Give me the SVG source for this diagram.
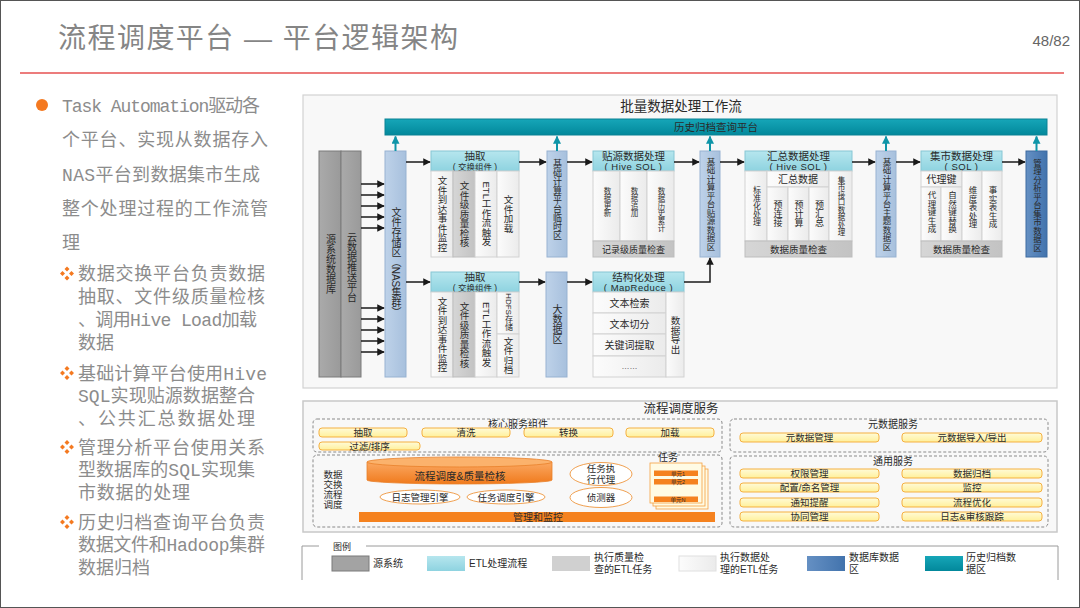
<svg xmlns="http://www.w3.org/2000/svg" width="1080" height="608" viewBox="0 0 1080 608">
<defs>
<linearGradient id="gBlue" x1="0" x2="1" y1="0" y2="0"><stop offset="0" stop-color="#bed2e9"/><stop offset="1" stop-color="#a7c0dd"/></linearGradient>
<linearGradient id="gCyan" x1="0" x2="0" y1="0" y2="1"><stop offset="0" stop-color="#b6e6ee"/><stop offset="1" stop-color="#8ed3e0"/></linearGradient>
<linearGradient id="gBody" x1="0" x2="1" y1="0" y2="0"><stop offset="0" stop-color="#fcfcfc"/><stop offset="1" stop-color="#ebebeb"/></linearGradient>
<linearGradient id="gQ" x1="0" x2="1" y1="0" y2="0"><stop offset="0" stop-color="#d6d6d6"/><stop offset="1" stop-color="#c3c3c3"/></linearGradient>
<linearGradient id="gSrc" x1="0" x2="1" y1="0" y2="0"><stop offset="0" stop-color="#aaaaaa"/><stop offset="1" stop-color="#9a9a9a"/></linearGradient>
<linearGradient id="gDark" x1="0" x2="1" y1="0" y2="0"><stop offset="0" stop-color="#6590c3"/><stop offset="1" stop-color="#4273ad"/></linearGradient>
<linearGradient id="gTeal" x1="0" x2="0" y1="0" y2="1"><stop offset="0" stop-color="#16a6b8"/><stop offset="1" stop-color="#02889b"/></linearGradient>
<linearGradient id="gOr" x1="0" x2="0" y1="0" y2="1"><stop offset="0" stop-color="#fba862"/><stop offset="1" stop-color="#f07a1c"/></linearGradient>
<linearGradient id="gYel" x1="0" x2="0" y1="0" y2="1"><stop offset="0" stop-color="#fffbd8"/><stop offset="1" stop-color="#fff09a"/></linearGradient>
<marker id="ab" viewBox="0 0 10 10" refX="9" refY="5" markerWidth="5" markerHeight="5" orient="auto"><path d="M0,0 L10,5 L0,10 z" fill="#1a1a1a"/></marker>
<marker id="at" viewBox="0 0 10 10" refX="9" refY="5" markerWidth="4" markerHeight="4" orient="auto"><path d="M0,0 L10,5 L0,10 z" fill="#0e95a8"/></marker>
<marker id="ao" viewBox="0 0 10 10" refX="9" refY="5" markerWidth="5" markerHeight="5" orient="auto"><path d="M0,0 L10,5 L0,10 z" fill="#f0a050"/></marker>
<style>
.t{font-family:'Liberation Sans','Noto Sans CJK SC',sans-serif;fill:#2a2a2a}
.c{text-anchor:middle}
.v{writing-mode:vertical-rl;text-anchor:middle;font-family:'Liberation Sans','Noto Sans CJK SC',sans-serif;fill:#2a2a2a}
.vs{writing-mode:vertical-rl;text-anchor:start;font-family:'Liberation Sans','Noto Sans CJK SC',sans-serif;fill:#333}
.lt{font-family:'Liberation Mono','Noto Sans CJK SC',sans-serif;font-size:18px;fill:#8c8c8c}
.bl{fill:url(#gBlue);stroke:#97b2d1;stroke-width:1}
.hd{fill:url(#gCyan);stroke:#86c6d4;stroke-width:1}
.bd{fill:url(#gBody);stroke:#d2d2d2;stroke-width:1}
.q{fill:url(#gQ);stroke:#bdbdbd;stroke-width:1}
.arr{stroke:#1a1a1a;stroke-width:1.5;fill:none;marker-end:url(#ab)}
.tar{stroke:#0e95a8;stroke-width:2;fill:none;marker-end:url(#at)}
.ol{stroke:#f0a050;stroke-width:1;fill:none}
.oa{stroke:#f0a050;stroke-width:1;fill:none;marker-end:url(#ao)}
.dash{fill:none;stroke:#8a8a8a;stroke-width:1;stroke-dasharray:3 2}
.yb{fill:url(#gYel);stroke:#f5b041;stroke-width:1}
.el{fill:#fff;stroke:#f0a050;stroke-width:1}
</style>
</defs>
<rect x="0" y="0" width="1080" height="608" fill="#fff"/>
<rect x="0.5" y="0.5" width="1079" height="607" fill="none" stroke="#555" stroke-width="1"/>

<!-- header -->
<g id="title">
<text x="58" y="48" font-family="'Liberation Sans','Noto Sans CJK SC',sans-serif" font-size="28" fill="#858585" textLength="400">流程调度平台  —  平台逻辑架构</text>
<text x="1070" y="46" font-family="'Liberation Sans','Noto Sans CJK SC',sans-serif" font-size="15" fill="#666" text-anchor="end">48/82</text>
<line x1="20" y1="73" x2="1064" y2="73" stroke="#ec7c7c" stroke-width="2"/>
</g>

<!-- left text -->
<g id="bullets">
<circle cx="42" cy="105" r="6" fill="#f47920"/>
<text class="lt" x="62" y="112" textLength="198">Task Automation驱动各</text>
<text class="lt" x="62" y="146" textLength="206">个平台、实现从数据存入</text>
<text class="lt" x="62" y="181" textLength="198">NAS平台到数据集市生成</text>
<text class="lt" x="62" y="215" textLength="206">整个处理过程的工作流管</text>
<text class="lt" x="62" y="249">理</text>
<g fill="#f47920">
<path d="M67,266.5 l2.5,2.5 l-2.5,2.5 l-2.5,-2.5z M67,275.5 l2.5,2.5 l-2.5,2.5 l-2.5,-2.5z M62.5,271 l2.5,2.5 l-2.5,2.5 l-2.5,-2.5z M71.5,271 l2.5,2.5 l-2.5,2.5 l-2.5,-2.5z"/>
<path d="M67,366 l2.5,2.5 l-2.5,2.5 l-2.5,-2.5z M67,375 l2.5,2.5 l-2.5,2.5 l-2.5,-2.5z M62.5,370.5 l2.5,2.5 l-2.5,2.5 l-2.5,-2.5z M71.5,370.5 l2.5,2.5 l-2.5,2.5 l-2.5,-2.5z"/>
<path d="M67,440 l2.5,2.5 l-2.5,2.5 l-2.5,-2.5z M67,449 l2.5,2.5 l-2.5,2.5 l-2.5,-2.5z M62.5,444.5 l2.5,2.5 l-2.5,2.5 l-2.5,-2.5z M71.5,444.5 l2.5,2.5 l-2.5,2.5 l-2.5,-2.5z"/>
<path d="M67,515 l2.5,2.5 l-2.5,2.5 l-2.5,-2.5z M67,524 l2.5,2.5 l-2.5,2.5 l-2.5,-2.5z M62.5,519.5 l2.5,2.5 l-2.5,2.5 l-2.5,-2.5z M71.5,519.5 l2.5,2.5 l-2.5,2.5 l-2.5,-2.5z"/>
</g>
<text class="lt" x="78" y="280" textLength="187">数据交换平台负责数据</text>
<text class="lt" x="78" y="303" textLength="187">抽取、文件级质量检核</text>
<text class="lt" x="78" y="326" textLength="179">、调用Hive Load加载</text>
<text class="lt" x="78" y="349">数据</text>
<text class="lt" x="78" y="380" textLength="189">基础计算平台使用Hive</text>
<text class="lt" x="78" y="402" textLength="177">SQL实现贴源数据整合</text>
<text class="lt" x="78" y="425" textLength="177">、公共汇总数据处理</text>
<text class="lt" x="78" y="454" textLength="187">管理分析平台使用关系</text>
<text class="lt" x="78" y="476" textLength="177">型数据库的SQL实现集</text>
<text class="lt" x="78" y="499" textLength="112">市数据的处理</text>
<text class="lt" x="78" y="529" textLength="187">历史归档查询平台负责</text>
<text class="lt" x="78" y="551" textLength="187">数据文件和Hadoop集群</text>
<text class="lt" x="78" y="574" textLength="72">数据归档</text>
</g>

<!-- upper panel -->
<g id="batch-panel">
<rect x="303" y="95" width="754" height="293" fill="#f8f8f8" stroke="#d2d2d2" stroke-width="1.2"/>
<text class="t c" x="681" y="111" font-size="13.5" fill="#333">批量数据处理工作流</text>
</g>

<g id="hist">
<rect x="385" y="119" width="662" height="16" fill="url(#gTeal)" stroke="#0a8194"/>
<text class="t c" x="716" y="131" font-size="10.5" fill="#111">历史归档查询平台</text>
</g>

<g id="src">
<rect x="319" y="151" width="22" height="226" fill="url(#gSrc)" stroke="#7a7a7a"/>
<text class="v" x="330" y="264" font-size="10">源系统数据库</text>
</g>
<g id="cloud">
<rect x="341" y="151" width="20" height="226" fill="url(#gSrc)" stroke="#7a7a7a"/>
<text class="v" x="351" y="267" font-size="10">云数据推送平台</text>
</g>
<g id="nas">
<rect class="bl" x="385" y="151" width="21" height="226"/>
<text class="v" x="395.5" y="262" font-size="10">文件存储区（NAS集群）</text>
</g>

<g id="etl1">
<rect class="hd" x="431" y="151" width="88" height="20"/>
<text class="t c" x="475" y="160" font-size="10.5">抽取</text>
<text class="t c" x="475" y="169.5" font-size="8.5">( 交换组件 )</text>
<rect class="bd" x="431" y="171" width="22" height="86"/>
<rect class="q" x="453" y="171" width="22" height="86"/>
<rect class="bd" x="475" y="171" width="22" height="86"/>
<rect class="bd" x="497" y="171" width="22" height="86"/>
<text class="v" x="442" y="214" font-size="9.5">文件到达事件监控</text>
<text class="v" x="464" y="214" font-size="9.5">文件级质量检核</text>
<text class="v" x="486" y="214" font-size="9.5">ETL工作流触发</text>
<text class="v" x="508" y="214" font-size="9.5">文件加载</text>
</g>

<g id="tmp">
<rect class="bl" x="547" y="151" width="20" height="106"/>
<text class="v" x="557" y="200" font-size="9">基础计算平台临时区</text>
</g>

<g id="tieyuan">
<rect class="hd" x="593" y="151" width="81" height="20"/>
<text class="t c" x="633.5" y="160" font-size="10.5">贴源数据处理</text>
<text class="t c" x="633.5" y="169.5" font-size="9.5" letter-spacing="0.5">( Hive SQL )</text>
<rect class="bd" x="593" y="171" width="27" height="70"/>
<rect class="bd" x="620" y="171" width="27" height="70"/>
<rect class="bd" x="647" y="171" width="27" height="70"/>
<rect class="q" x="593" y="241" width="81" height="16"/>
<text class="vs" x="606.5" y="187" font-size="7.5">数据更新</text>
<text class="vs" x="633.5" y="187" font-size="7.5">数据追加</text>
<text class="vs" x="660.5" y="187" font-size="7.5">数据历史累计</text>
<text class="t c" x="633.5" y="252.5" font-size="9" fill="#444">记录级质量检查</text>
</g>

<g id="tieyuan-zone">
<rect class="bl" x="700" y="151" width="20" height="106"/>
<text class="v" x="710" y="204" font-size="8.5">基础计算平台贴源数据区</text>
</g>

<g id="huizong">
<rect class="hd" x="745" y="151" width="107" height="20"/>
<text class="t c" x="798.5" y="160" font-size="10.5">汇总数据处理</text>
<text class="t c" x="798.5" y="169.5" font-size="9.5" letter-spacing="0.5">( Hive SQL )</text>
<rect class="bd" x="745" y="171" width="22" height="70"/>
<rect class="bd" x="767" y="171" width="62" height="16"/>
<rect class="bd" x="767" y="187" width="21" height="54"/>
<rect class="bd" x="788" y="187" width="21" height="54"/>
<rect class="bd" x="809" y="187" width="20" height="54"/>
<rect class="bd" x="829" y="171" width="23" height="70"/>
<rect class="q" x="745" y="241" width="107" height="16"/>
<text class="v" x="756" y="206" font-size="8">标准化处理</text>
<text class="t c" x="798" y="182.5" font-size="10">汇总数据</text>
<text class="v" x="777.5" y="214" font-size="9">预连接</text>
<text class="v" x="798.5" y="214" font-size="9">预计算</text>
<text class="v" x="819" y="214" font-size="9">预汇总</text>
<text class="v" x="840.5" y="206" font-size="7.5">集市接口数据处理</text>
<text class="t c" x="798.5" y="252.5" font-size="9.5" fill="#444">数据质量检查</text>
</g>

<g id="theme-zone">
<rect class="bl" x="876" y="151" width="20" height="106"/>
<text class="v" x="886" y="204" font-size="8.5">基础计算平台主题数据区</text>
</g>

<g id="jishi">
<rect class="hd" x="921" y="151" width="81" height="20"/>
<text class="t c" x="961.5" y="160" font-size="10.5">集市数据处理</text>
<text class="t c" x="961.5" y="169.5" font-size="9.5" letter-spacing="0.5">( SQL )</text>
<rect class="bd" x="921" y="171" width="41" height="16"/>
<rect class="bd" x="921" y="187" width="20" height="54"/>
<rect class="bd" x="941" y="187" width="21" height="54"/>
<rect class="bd" x="962" y="171" width="20" height="70"/>
<rect class="bd" x="982" y="171" width="20" height="70"/>
<rect class="q" x="921" y="241" width="81" height="16"/>
<text class="t c" x="941.5" y="182.5" font-size="10">代理键</text>
<text class="v" x="931" y="212" font-size="8.5">代理键生成</text>
<text class="v" x="951.5" y="212" font-size="8.5">自然键替换</text>
<text class="v" x="972" y="207" font-size="8.5">维度表处理</text>
<text class="v" x="992" y="207" font-size="8.5">事实表生成</text>
<text class="t c" x="961.5" y="252.5" font-size="9.5" fill="#444">数据质量检查</text>
</g>

<g id="mart-zone">
<rect x="1026" y="151" width="21" height="106" fill="url(#gDark)" stroke="#3d6aa0"/>
<text class="v" x="1036.5" y="205" font-size="8.5" fill="#111">管理分析平台集市数据区</text>
</g>

<g id="etl2">
<rect class="hd" x="431" y="272" width="88" height="20"/>
<text class="t c" x="475" y="281" font-size="10.5">抽取</text>
<text class="t c" x="475" y="290.5" font-size="8.5">( 交换组件 )</text>
<rect class="bd" x="431" y="292" width="22" height="85"/>
<rect class="q" x="453" y="292" width="22" height="85"/>
<rect class="bd" x="475" y="292" width="22" height="85"/>
<rect class="bd" x="497" y="292" width="22" height="42"/>
<rect class="bd" x="497" y="334" width="22" height="43"/>
<text class="v" x="442" y="334.5" font-size="9.5">文件到达事件监控</text>
<text class="v" x="464" y="334.5" font-size="9.5">文件级质量检核</text>
<text class="v" x="486" y="334.5" font-size="9.5">ETL工作流触发</text>
<text class="v" x="508" y="312" font-size="8">HDFS存储</text>
<text class="v" x="508" y="355.5" font-size="9.5">文件归档</text>
</g>

<g id="bigdata">
<rect class="bl" x="546" y="272" width="21" height="105"/>
<text class="v" x="556.5" y="324.5" font-size="10">大数据区</text>
</g>

<g id="mapreduce">
<rect class="hd" x="593" y="272" width="91" height="20"/>
<text class="t c" x="638.5" y="281" font-size="10.5">结构化处理</text>
<text class="t c" x="638.5" y="290.5" font-size="9.5" letter-spacing="0.5">( MapReduce )</text>
<rect class="bd" x="593" y="292" width="73" height="21"/>
<rect class="bd" x="593" y="313" width="73" height="21"/>
<rect class="bd" x="593" y="334" width="73" height="22"/>
<rect class="bd" x="593" y="356" width="73" height="21"/>
<rect class="bd" x="666" y="292" width="18" height="85"/>
<text class="t c" x="629.5" y="306.5" font-size="10">文本检索</text>
<text class="t c" x="629.5" y="327.5" font-size="10">文本切分</text>
<text class="t c" x="629.5" y="348.5" font-size="10">关键词提取</text>
<text class="t c" x="629.5" y="369" font-size="8">……</text>
<text class="v" x="675" y="335" font-size="9.5">数据导出</text>
</g>

<g id="connectors">
<path class="tar" d="M395.5,151 V136.5"/>
<path class="tar" d="M557,151 V136.5"/>
<path class="tar" d="M710,151 V136.5"/>
<path class="tar" d="M886,151 V136.5"/>
<path class="tar" d="M1036.5,151 V136.5"/>
<path class="arr" d="M361,184 H384"/>
<path class="arr" d="M361,195 H384"/>
<path class="arr" d="M361,206 H384"/>
<path class="arr" d="M361,217 H384"/>
<path class="arr" d="M361,228 H384"/>
<path class="arr" d="M361,308 H384"/>
<path class="arr" d="M361,319 H384"/>
<path class="arr" d="M361,330 H384"/>
<path class="arr" d="M361,341 H384"/>
<path class="arr" d="M361,352 H384"/>
<path class="arr" d="M406,162 H430"/>
<path class="arr" d="M519,162 H546"/>
<path class="arr" d="M567,162 H592"/>
<path class="arr" d="M674,162 H699"/>
<path class="arr" d="M720,162 H744"/>
<path class="arr" d="M852,162 H875"/>
<path class="arr" d="M896,162 H920"/>
<path class="arr" d="M1002,162 H1025"/>
<path class="arr" d="M406,282 H430"/>
<path class="arr" d="M519,282 H545"/>
<path class="arr" d="M567,282 H592"/>
<path class="arr" d="M684,282 H710 V258"/>
<!-- service panel connectors -->
<path class="oa" d="M407,432 H421"/>
<path class="oa" d="M510,432 H523"/>
<path class="oa" d="M613,432 H625"/>
<path class="ol" d="M363,437 V442"/>
<path class="oa" d="M420,446 H465 V438"/>
<path class="ol" d="M422,483 V490"/>
<path class="ol" d="M507,483 V490"/>
<path class="ol" d="M422,504 V512"/>
<path class="ol" d="M507,504 V512"/>
<path class="ol" d="M545,495 L572,479"/>
<path class="ol" d="M545,497 L570,497"/>
</g>

<!-- lower panel -->
<g id="service-panel">
<rect x="303" y="401" width="754" height="131" fill="#f8f8f8" stroke="#c8c8c8" stroke-width="1.5"/>
<text class="t c" x="681" y="412.5" font-size="12.5" fill="#333">流程调度服务</text>
</g>

<g id="core">
<rect class="dash" x="313" y="419" width="409" height="33" rx="4"/>
<text class="t c" x="518" y="427.5" font-size="10" fill="#333">核心服务组件</text>
<rect class="yb" x="319" y="428" width="88" height="9" rx="3"/>
<text class="t c" x="363" y="436" font-size="9.5">抽取</text>
<rect class="yb" x="422" y="428" width="88" height="9" rx="3"/>
<text class="t c" x="466" y="436" font-size="9.5">清洗</text>
<rect class="yb" x="524" y="428" width="89" height="9" rx="3"/>
<text class="t c" x="568.5" y="436" font-size="9.5">转换</text>
<rect class="yb" x="626" y="428" width="88" height="9" rx="3"/>
<text class="t c" x="670" y="436" font-size="9.5">加载</text>
<rect class="yb" x="319" y="442" width="101" height="8" rx="3"/>
<text class="t c" x="369.5" y="449.5" font-size="9.5">过滤/排序</text>
</g>

<g id="dispatch">
<rect class="dash" x="313" y="455" width="409" height="72" rx="4"/>
<text class="t c" x="333" y="478" font-size="9.5" fill="#333">数据</text>
<text class="t c" x="333" y="488" font-size="9.5" fill="#333">交换</text>
<text class="t c" x="333" y="498" font-size="9.5" fill="#333">流程</text>
<text class="t c" x="333" y="508" font-size="9.5" fill="#333">调度</text>
</g>

<g id="cylinder">
<path d="M367,462 V480 A92.5,4 0 0 0 552,480 V462 Z" fill="url(#gOr)" stroke="#e8802a" stroke-width="0.8"/>
<ellipse cx="459.5" cy="462" rx="92.5" ry="5" fill="#fbb26c" stroke="#e8802a" stroke-width="0.8"/>
<text class="t c" x="460" y="480" font-size="10.5">流程调度&amp;质量检核</text>
</g>

<g id="log-engine">
<ellipse class="el" cx="420" cy="497" rx="40" ry="7"/>
<text class="t c" x="420" y="500.5" font-size="9.5">日志管理引擎</text>
</g>
<g id="task-engine">
<ellipse class="el" cx="506" cy="497" rx="39" ry="7"/>
<text class="t c" x="506" y="500.5" font-size="9.5">任务调度引擎</text>
</g>
<g id="agent">
<ellipse class="el" cx="601" cy="474" rx="31" ry="11.5"/>
<text class="t c" x="601" y="472" font-size="9.5">任务执</text>
<text class="t c" x="601" y="482.5" font-size="9.5">行代理</text>
</g>
<g id="detector">
<ellipse class="el" cx="601" cy="497.5" rx="31" ry="10"/>
<text class="t c" x="601" y="501" font-size="9.5">侦测器</text>
</g>

<g id="tasks">
<rect x="656" y="469" width="52" height="40" fill="#fffbe4" stroke="#f5a040" stroke-width="0.8"/>
<rect x="653" y="466" width="52" height="40" fill="#fffbe4" stroke="#f5a040" stroke-width="0.8"/>
<rect x="650" y="463" width="52" height="40" fill="#fffbe4" stroke="#f5a040" stroke-width="0.8"/>
<text class="t c" x="668" y="461" font-size="10">任务</text>
<rect x="654" y="470.5" width="44" height="5.5" fill="#f5821f"/>
<rect x="654" y="479" width="44" height="5.5" fill="#f5821f"/>
<rect x="654" y="496.5" width="44" height="5.5" fill="#f5821f"/>
<text class="t c" x="678" y="475.5" font-size="5.5">单元1</text>
<text class="t c" x="678" y="484" font-size="5.5">单元2</text>
<text class="t c" x="678" y="501.5" font-size="5.5">单元N</text>
</g>

<g id="monitor">
<rect x="359" y="512" width="356" height="10" fill="#f5821f"/>
<text class="t c" x="538" y="520.5" font-size="10">管理和监控</text>
</g>

<g id="meta">
<rect class="dash" x="730" y="419" width="318" height="33" rx="4"/>
<text class="t c" x="893" y="428" font-size="10" fill="#333">元数据服务</text>
<rect class="yb" x="740" y="433" width="139" height="9" rx="3"/>
<text class="t c" x="809.5" y="441" font-size="9.5">元数据管理</text>
<rect class="yb" x="902" y="433" width="140" height="9" rx="3"/>
<text class="t c" x="972" y="441" font-size="9.5">元数据导入/导出</text>
</g>

<g id="common">
<rect class="dash" x="730" y="456" width="318" height="71" rx="4"/>
<text class="t c" x="893" y="465" font-size="10" fill="#333">通用服务</text>
<rect class="yb" x="740" y="469" width="139" height="9" rx="3"/>
<text class="t c" x="809.5" y="477" font-size="9.5">权限管理</text>
<rect class="yb" x="740" y="483" width="139" height="9" rx="3"/>
<text class="t c" x="809.5" y="491" font-size="9.5">配置/命名管理</text>
<rect class="yb" x="740" y="498" width="139" height="9" rx="3"/>
<text class="t c" x="809.5" y="506" font-size="9.5">通知提醒</text>
<rect class="yb" x="740" y="512" width="139" height="9" rx="3"/>
<text class="t c" x="809.5" y="520" font-size="9.5">协同管理</text>
<rect class="yb" x="902" y="469" width="140" height="9" rx="3"/>
<text class="t c" x="972" y="477" font-size="9.5">数据归档</text>
<rect class="yb" x="902" y="483" width="140" height="9" rx="3"/>
<text class="t c" x="972" y="491" font-size="9.5">监控</text>
<rect class="yb" x="902" y="498" width="140" height="9" rx="3"/>
<text class="t c" x="972" y="506" font-size="9.5">流程优化</text>
<rect class="yb" x="902" y="512" width="140" height="9" rx="3"/>
<text class="t c" x="972" y="520" font-size="9.5">日志&amp;审核跟踪</text>
</g>

<g id="legend">
<path d="M302,580 V546 H319 M366,546 H1058 V580" fill="none" stroke="#9a9a9a" stroke-width="1"/>
<text class="t c" x="342" y="550" font-size="9" fill="#666">图例</text>
<rect x="332" y="556" width="37" height="15" fill="#a3a3a3" stroke="#7a7a7a"/>
<text class="t" x="373" y="567" font-size="10" fill="#555">源系统</text>
<rect x="427" y="556" width="38" height="15" fill="url(#gCyan)"/>
<text class="t" x="469" y="567" font-size="10" fill="#555">ETL处理流程</text>
<rect x="552" y="556" width="38" height="15" fill="#d0d0d0"/>
<text class="t" x="594" y="561" font-size="10" fill="#555">执行质量检</text>
<text class="t" x="594" y="573" font-size="10" fill="#555">查的ETL任务</text>
<rect x="679" y="556" width="37" height="15" fill="url(#gBody)" stroke="#e0e0e0"/>
<text class="t" x="720" y="561" font-size="10" fill="#555">执行数据处</text>
<text class="t" x="720" y="573" font-size="10" fill="#555">理的ETL任务</text>
<rect x="807" y="556" width="38" height="15" fill="url(#gDark)"/>
<text class="t" x="849" y="561" font-size="10" fill="#555">数据库数据</text>
<text class="t" x="849" y="573" font-size="10" fill="#555">区</text>
<rect x="925" y="556" width="38" height="15" fill="url(#gTeal)"/>
<text class="t" x="966" y="561" font-size="10" fill="#555">历史归档数</text>
<text class="t" x="966" y="573" font-size="10" fill="#555">据区</text>
</g>
</svg>
